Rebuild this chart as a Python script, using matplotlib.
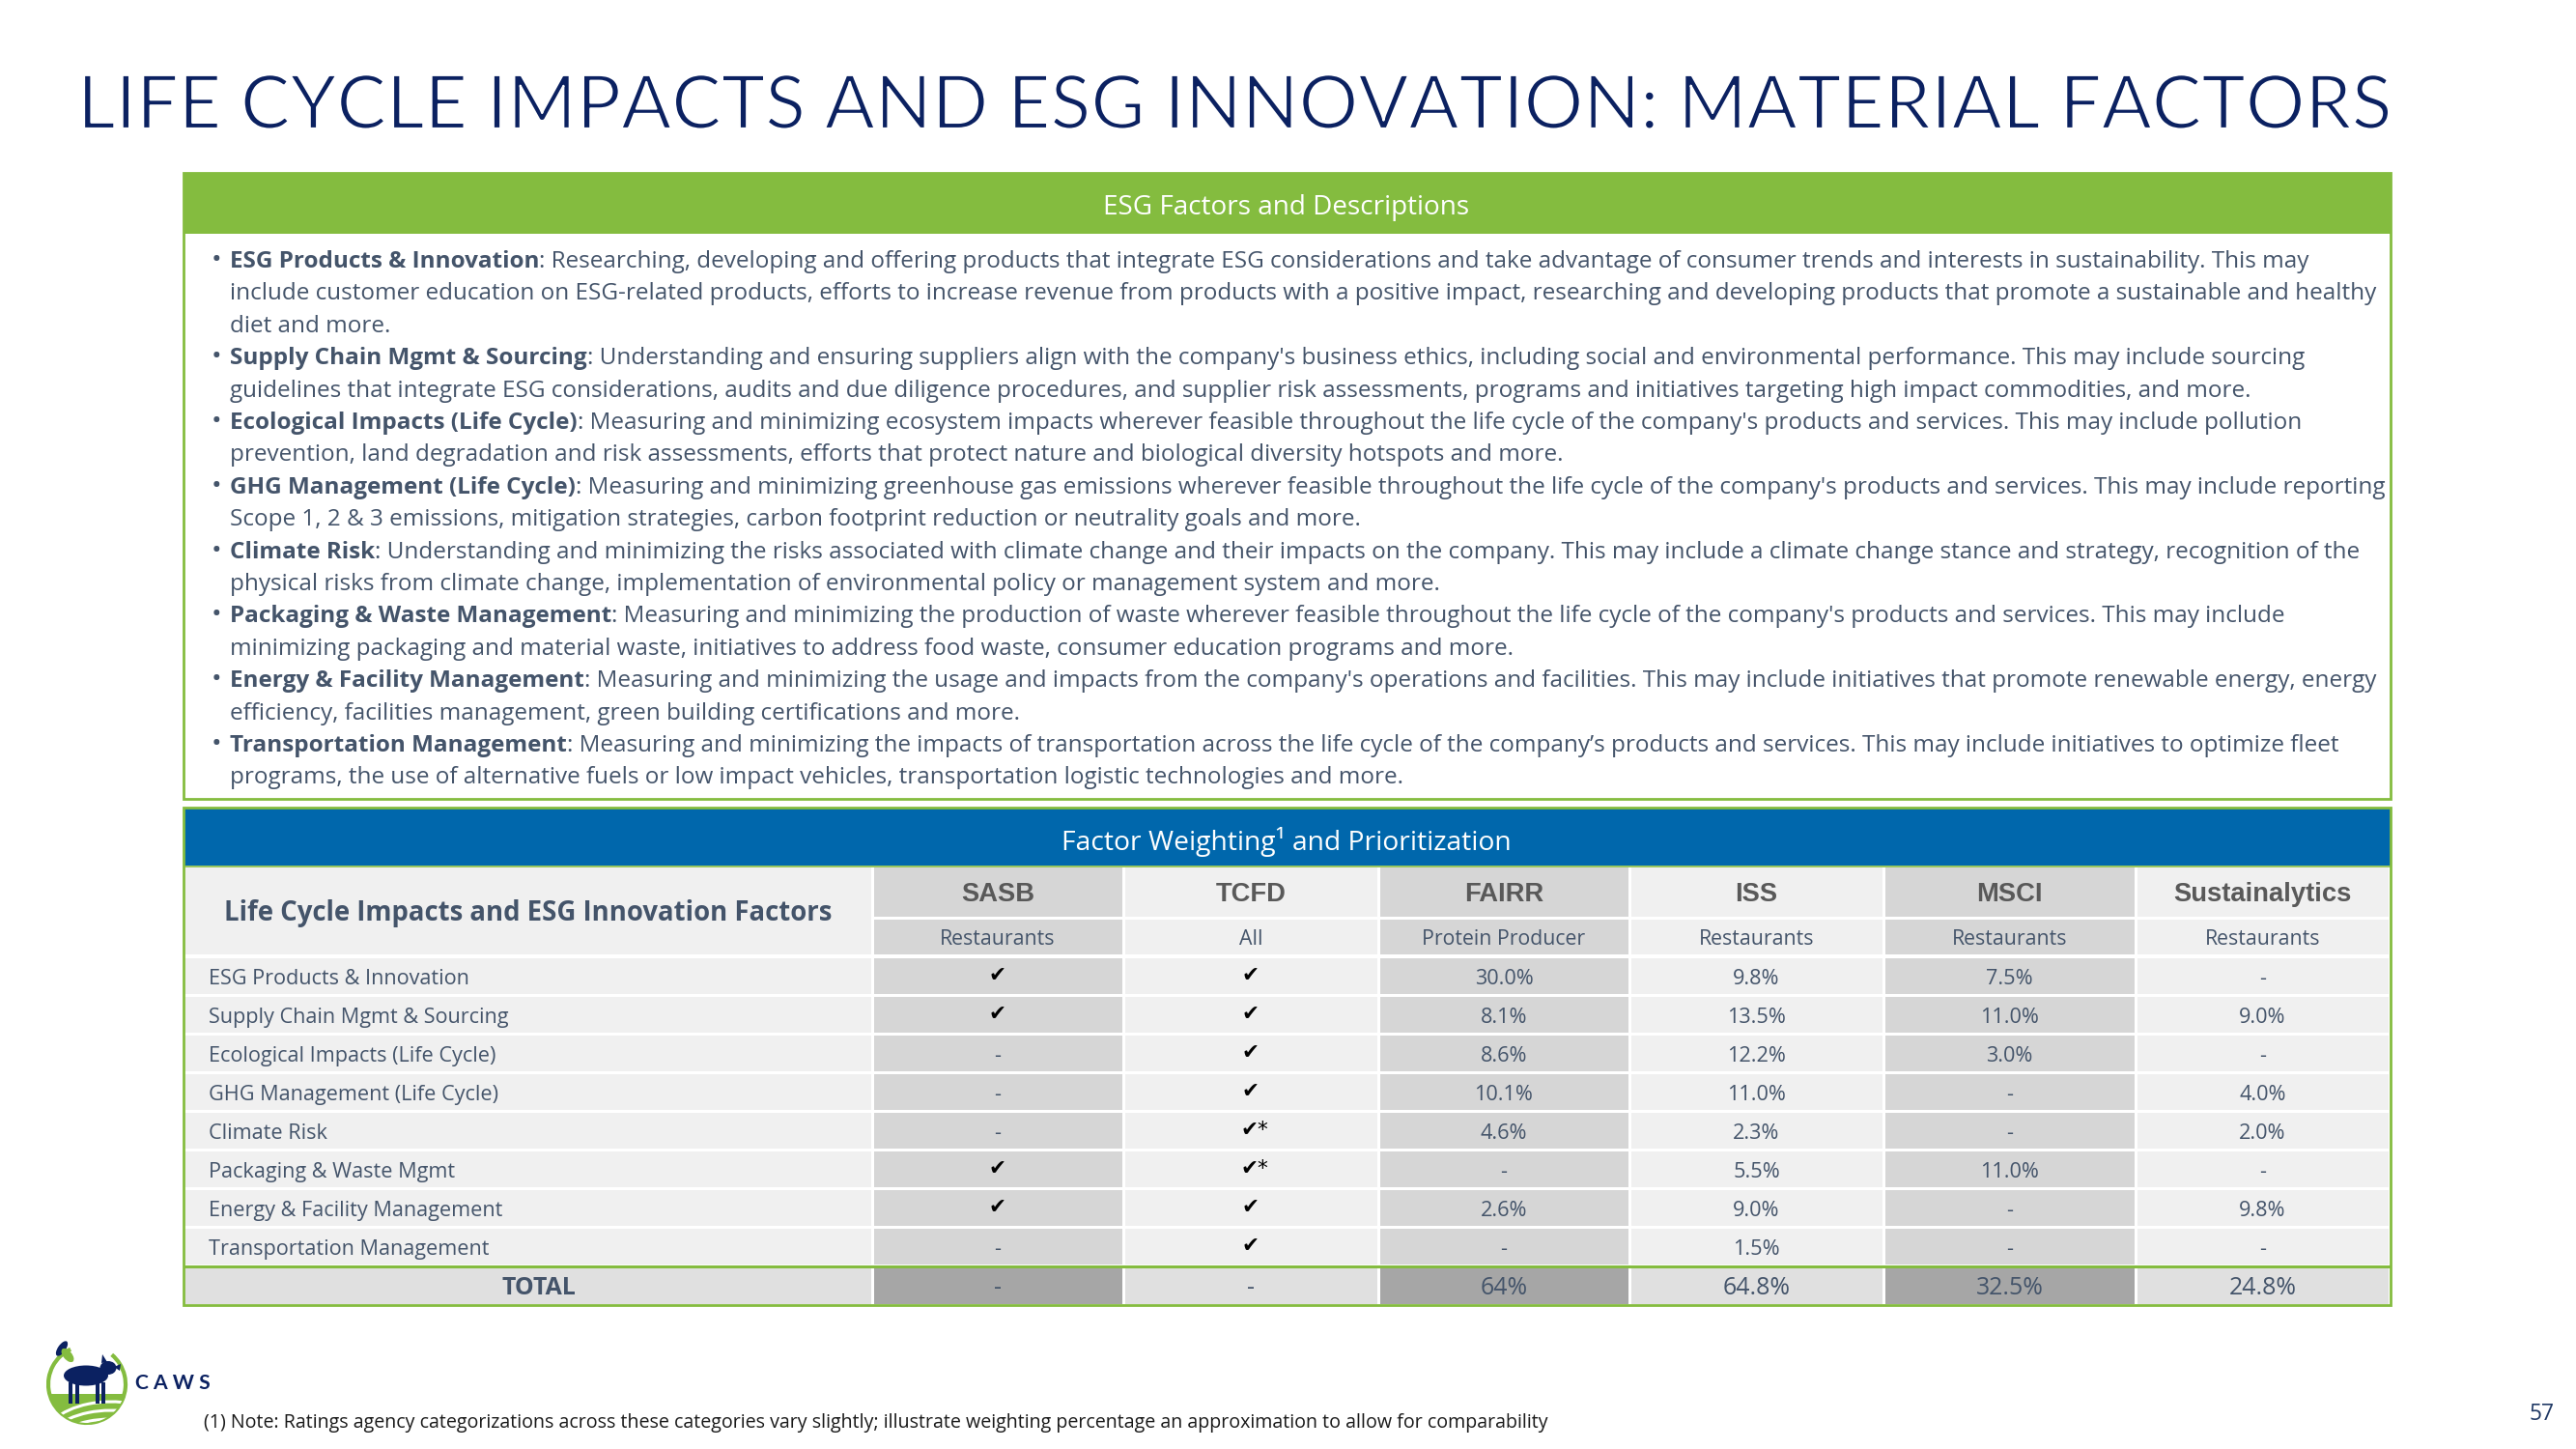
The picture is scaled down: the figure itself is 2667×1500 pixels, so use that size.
import matplotlib
matplotlib.use("Agg")
import matplotlib.pyplot as plt
import matplotlib.patheffects as pe
from matplotlib.patches import Rectangle, Ellipse, Circle, Arc, Polygon

# ---- text content -------------------------------------------------------
title = "LIFE CYCLE IMPACTS AND ESG INNOVATION: MATERIAL FACTORS"
box_title = "ESG Factors and Descriptions"
table_title = "Factor Weighting\u00b9 and Prioritization"
footnote = ("(1) Note: Ratings agency categorizations across these categories vary slightly; "
            "illustrate weighting percentage an approximation to allow for comparability")
page_no = "57"

bullet_names = [
    "ESG Products & Innovation",
    "Supply Chain Mgmt & Sourcing",
    "Ecological Impacts (Life Cycle)",
    "GHG Management (Life Cycle)",
    "Climate Risk",
    "Packaging & Waste Management",
    "Energy & Facility Management",
    "Transportation Management",
]
bullet_first = [
    ": Researching, developing and offering products that integrate ESG considerations and take advantage of consumer trends and interests in sustainability. This may",
    ": Understanding and ensuring suppliers align with the company's business ethics, including social and environmental performance. This may include sourcing",
    ": Measuring and minimizing ecosystem impacts wherever feasible throughout the life cycle of the company's products and services. This may include pollution",
    ": Measuring and minimizing greenhouse gas emissions wherever feasible throughout the life cycle of the company's products and services. This may include reporting",
    ": Understanding and minimizing the risks associated with climate change and their impacts on the company. This may include a climate change stance and strategy, recognition of the",
    ": Measuring and minimizing the production of waste wherever feasible throughout the life cycle of the company's products and services. This may include",
    ": Measuring and minimizing the usage and impacts from the company's operations and facilities. This may include initiatives that promote renewable energy, energy",
    ": Measuring and minimizing the impacts of transportation across the life cycle of the company\u2019s products and services. This may include initiatives to optimize fleet",
]
bullet_more = [
    ["include customer education on ESG-related products, efforts to increase revenue from products with a positive impact, researching and developing products that promote a sustainable and healthy",
     "diet and more."],
    ["guidelines that integrate ESG considerations, audits and due diligence procedures, and supplier risk assessments, programs and initiatives targeting high impact commodities, and more."],
    ["prevention, land degradation and risk assessments, efforts that protect nature and biological diversity hotspots and more."],
    ["Scope 1, 2 & 3 emissions, mitigation strategies, carbon footprint reduction or neutrality goals and more."],
    ["physical risks from climate change, implementation of environmental policy or management system and more."],
    ["minimizing packaging and material waste, initiatives to address food waste, consumer education programs and more."],
    ["efficiency, facilities management, green building certifications and more."],
    ["programs, the use of alternative fuels or low impact vehicles, transportation logistic technologies and more."],
]

# ---- table data ---------------------------------------------------------
factors = [
    "ESG Products & Innovation",
    "Supply Chain Mgmt & Sourcing",
    "Ecological Impacts (Life Cycle)",
    "GHG Management (Life Cycle)",
    "Climate Risk",
    "Packaging & Waste Mgmt",
    "Energy & Facility Management",
    "Transportation Management",
]
agencies = ["SASB", "TCFD", "FAIRR", "ISS", "MSCI", "Sustainalytics"]
scopes = ["Restaurants", "All", "Protein Producer", "Restaurants", "Restaurants", "Restaurants"]
sasb = ["\u2714", "\u2714", "-", "-", "-", "\u2714", "\u2714", "-"]
tcfd = ["\u2714", "\u2714", "\u2714", "\u2714", "\u2714*", "\u2714*", "\u2714", "\u2714"]
fairr = [30.0, 8.1, 8.6, 10.1, 4.6, None, 2.6, None]
iss = [9.8, 13.5, 12.2, 11.0, 2.3, 5.5, 9.0, 1.5]
msci = [7.5, 11.0, 3.0, None, None, 11.0, None, None]
sustainalytics = [None, 9.0, None, 4.0, 2.0, None, 9.8, None]
totals = ["-", "-", "64%", "64.8%", "32.5%", "24.8%"]

# ---- colours / fonts ----------------------------------------------------
NAVY = "#0B2161"
GREEN = "#84BC3F"
BLUE = "#0067AC"
TEXT = "#44546A"
HEAD = "#595959"
LIGHT = "#F0F0F0"
DARK = "#D6D6D6"
TOT_LIGHT = "#E0E0E0"
TOT_DARK = "#A6A6A6"
BODY_FONT = ["Open Sans", "DejaVu Sans"]

W, H = 2667, 1500
fig = plt.figure(figsize=(W / 100, H / 100), dpi=100)
ax = fig.add_axes([0, 0, 1, 1])
ax.set_xlim(0, W)
ax.set_ylim(H, 0)
ax.axis("off")
renderer = fig.canvas.get_renderer()


def fit(t, width):
    # scale the font so the text spans the given width in pixels
    bb = t.get_window_extent(renderer)
    t.set_fontsize(t.get_fontsize() * width / bb.width)
    return t


def fitted_size(s, width, **kw):
    probe = ax.text(0, 0, s, fontsize=15, **kw)
    fit(probe, width)
    fs = probe.get_fontsize()
    probe.remove()
    return fs


# ---- title --------------------------------------------------------------
t = ax.text(80, 133, title, family=["Lato", "DejaVu Sans"], fontweight="normal",
            color=NAVY, fontsize=60, va="baseline", ha="left")
fit(t, 2398)
# thin the strokes a little to get closer to a light weight
t.set_path_effects([pe.Normal(), pe.Stroke(linewidth=1.6, foreground="white")])

# ---- ESG factors box ----------------------------------------------------
ax.add_patch(Rectangle((190, 179), 2285, 648, facecolor="white", edgecolor=GREEN, lw=2))
ax.add_patch(Rectangle((190, 179), 2285, 63, facecolor=GREEN, edgecolor="none"))
t = ax.text(1332, 222, box_title, family=BODY_FONT, color="white", fontsize=20,
            ha="center", va="baseline")
fit(t, 379)

body_fs = fitted_size(bullet_more[0][0], 2214, family=BODY_FONT)
y = 277
step = 33.4
for name, first, more in zip(bullet_names, bullet_first, bullet_more):
    ax.text(219, y, "\u2022", family=BODY_FONT, color=TEXT, fontsize=body_fs * 1.15,
            ha="left", va="baseline")
    tb = ax.text(238, y, name, family=BODY_FONT, fontweight="bold", color=TEXT,
                 fontsize=body_fs, ha="left", va="baseline")
    wb = tb.get_window_extent(renderer).width
    ax.text(238 + wb, y, first, family=BODY_FONT, color=TEXT, fontsize=body_fs,
            ha="left", va="baseline")
    y += step
    for line in more:
        ax.text(238, y, line, family=BODY_FONT, color=TEXT, fontsize=body_fs,
                ha="left", va="baseline")
        y += step

# ---- factor weighting table --------------------------------------------
ax.add_patch(Rectangle((190, 837), 2285, 59, facecolor=BLUE, edgecolor="none"))
t = ax.text(1332, 880, table_title, family=BODY_FONT, color="white", fontsize=20,
            ha="center", va="baseline")
fit(t, 464)

col_edges = [190, 903, 1163, 1427, 1687, 1950, 2211, 2474]
dark_cols = {1, 3, 5}
g = 1.5
dy = 3  # text nudge inside cells

label_fs = fitted_size(factors[0], 270, family=BODY_FONT)
scope_fs = fitted_size(scopes[0], 119, family=BODY_FONT)
agency_fs = fitted_size("Sustainalytics", 185, family=["Liberation Sans", "DejaVu Sans"],
                        fontweight="bold")

# header
ax.add_patch(Rectangle((col_edges[0], 898), col_edges[1] - col_edges[0] - g, 90,
                       facecolor=LIGHT, edgecolor="none"))
t = ax.text((col_edges[0] + col_edges[1]) / 2, 943 + dy,
            "Life Cycle Impacts and ESG Innovation Factors", family=BODY_FONT,
            fontweight="bold", color=TEXT, fontsize=18, ha="center", va="center")
fit(t, 631)
for j, (ag, sc) in enumerate(zip(agencies, scopes), start=1):
    x0, x1 = col_edges[j] + g, col_edges[j + 1] - g
    c = DARK if j in dark_cols else LIGHT
    ax.add_patch(Rectangle((x0, 898), x1 - x0, 51, facecolor=c, edgecolor="none"))
    ax.add_patch(Rectangle((x0, 952), x1 - x0, 36, facecolor=c, edgecolor="none"))
    ax.text((x0 + x1) / 2, 933, ag, family=["Liberation Sans", "DejaVu Sans"],
            fontweight="bold", color=HEAD, fontsize=agency_fs, ha="center", va="baseline")
    ax.text((x0 + x1) / 2, 970 + dy, sc, family=BODY_FONT, color=TEXT, fontsize=scope_fs,
            ha="center", va="center")


def fmt(v):
    return "-" if v is None else f"{v:.1f}%"


columns = [sasb, tcfd,
           [fmt(v) for v in fairr], [fmt(v) for v in iss],
           [fmt(v) for v in msci], [fmt(v) for v in sustainalytics]]

row_top = 992
pitch = 40
for i, fac in enumerate(factors):
    y0 = row_top + i * pitch
    yc = y0 + 18.5 + dy
    ax.add_patch(Rectangle((col_edges[0], y0), col_edges[1] - col_edges[0] - g, 37,
                           facecolor=LIGHT, edgecolor="none"))
    ax.text(216, yc, fac, family=BODY_FONT, color=TEXT, fontsize=label_fs,
            ha="left", va="center")
    for j, col in enumerate(columns, start=1):
        x0, x1 = col_edges[j] + g, col_edges[j + 1] - g
        c = DARK if j in dark_cols else LIGHT
        ax.add_patch(Rectangle((x0, y0), x1 - x0, 37, facecolor=c, edgecolor="none"))
        val = col[i]
        if "\u2714" in val:
            ax.text((x0 + x1) / 2 + (4 if "*" in val else 0), yc - 4, val,
                    family=["DejaVu Sans"], color="black",
                    fontsize=15.5, ha="center", va="center")
        else:
            ax.text((x0 + x1) / 2, yc, val, family=BODY_FONT, color=TEXT,
                    fontsize=label_fs, ha="center", va="center")

# total row
y0 = row_top + len(factors) * pitch
yc = y0 + 19 + dy
ax.add_patch(Rectangle((col_edges[0], y0), col_edges[1] - col_edges[0] - g, 38,
                       facecolor=TOT_LIGHT, edgecolor="none"))
ax.text(558, yc, "TOTAL", family=BODY_FONT, fontweight="bold", color=TEXT,
        fontsize=label_fs * 1.15, ha="center", va="center")
for j, tot in enumerate(totals, start=1):
    x0, x1 = col_edges[j] + g, col_edges[j + 1] - g
    c = TOT_DARK if j in dark_cols else TOT_LIGHT
    ax.add_patch(Rectangle((x0, y0), x1 - x0, 38, facecolor=c, edgecolor="none"))
    ax.text((x0 + x1) / 2, yc, tot, family=BODY_FONT, color=TEXT,
            fontsize=label_fs * 1.15, ha="center", va="center")

ax.plot([190, 2475], [y0 - 1, y0 - 1], color=GREEN, lw=2.2, solid_capstyle="butt")
ax.add_patch(Rectangle((190, 836), 2285, y0 + 39 - 836, facecolor="none",
                       edgecolor=GREEN, lw=2))
ax.plot([190, 2475], [896.5, 896.5], color=GREEN, lw=1.2, solid_capstyle="butt")

# ---- footer -------------------------------------------------------------
t = ax.text(211, 1478, footnote, family=BODY_FONT, color="#1A1A1A", fontsize=12,
            ha="left", va="baseline")
fit(t, 1383)
t = ax.text(2619, 1470, page_no, family=BODY_FONT, color="#1F3864", fontsize=18,
            ha="left", va="baseline")
fit(t, 26)

# ---- logo (simplified) --------------------------------------------------
cx, cy, r = 90, 1433, 40
ring = Arc((cx, cy), 2 * r, 2 * r, theta1=-50, theta2=245, color=GREEN, lw=3)
ax.add_patch(ring)
clip = Circle((cx, cy), r, transform=ax.transData)
field = Rectangle((cx - r, cy + 10), 2 * r, 40, facecolor=GREEN, edgecolor="none")
ax.add_patch(field)
field.set_clip_path(clip)
for off in [18, 27, 36]:
    a = Arc((cx + 25, cy + off + 40), 140, 80, theta1=200, theta2=300, color="white", lw=2.2)
    ax.add_patch(a)
    a.set_clip_path(clip)
ax.add_patch(Ellipse((cx - 1, cy - 9), 46, 21, facecolor=NAVY, edgecolor="none"))
ax.add_patch(Ellipse((cx + 22, cy - 17), 17, 14, facecolor=NAVY, edgecolor="none"))
ax.add_patch(Polygon([(cx + 15, cy - 22), (cx + 16, cy - 31), (cx + 21, cy - 23)],
                     closed=True, facecolor=NAVY, edgecolor="none"))
ax.add_patch(Polygon([(cx + 28, cy - 18), (cx + 35, cy - 21), (cx + 34, cy - 14)],
                     closed=True, facecolor=NAVY, edgecolor="none"))
for lx in [-19, -12, 9, 15]:
    ax.add_patch(Rectangle((cx + lx, cy - 2), 4, 22, facecolor=NAVY, edgecolor="none"))
ax.add_patch(Ellipse((cx - 26, cy - 37), 8, 18, angle=35, facecolor=NAVY, edgecolor="none"))
ax.add_patch(Ellipse((cx - 20, cy - 30), 9, 17, angle=-40, facecolor=GREEN, edgecolor="none"))
t = ax.text(140, 1438, "C A W S", family=["Lato", "DejaVu Sans"], fontweight="bold",
            color=NAVY, fontsize=13, ha="left", va="baseline")
fit(t, 78)

fig.savefig("out.png", dpi=100, facecolor="white")
